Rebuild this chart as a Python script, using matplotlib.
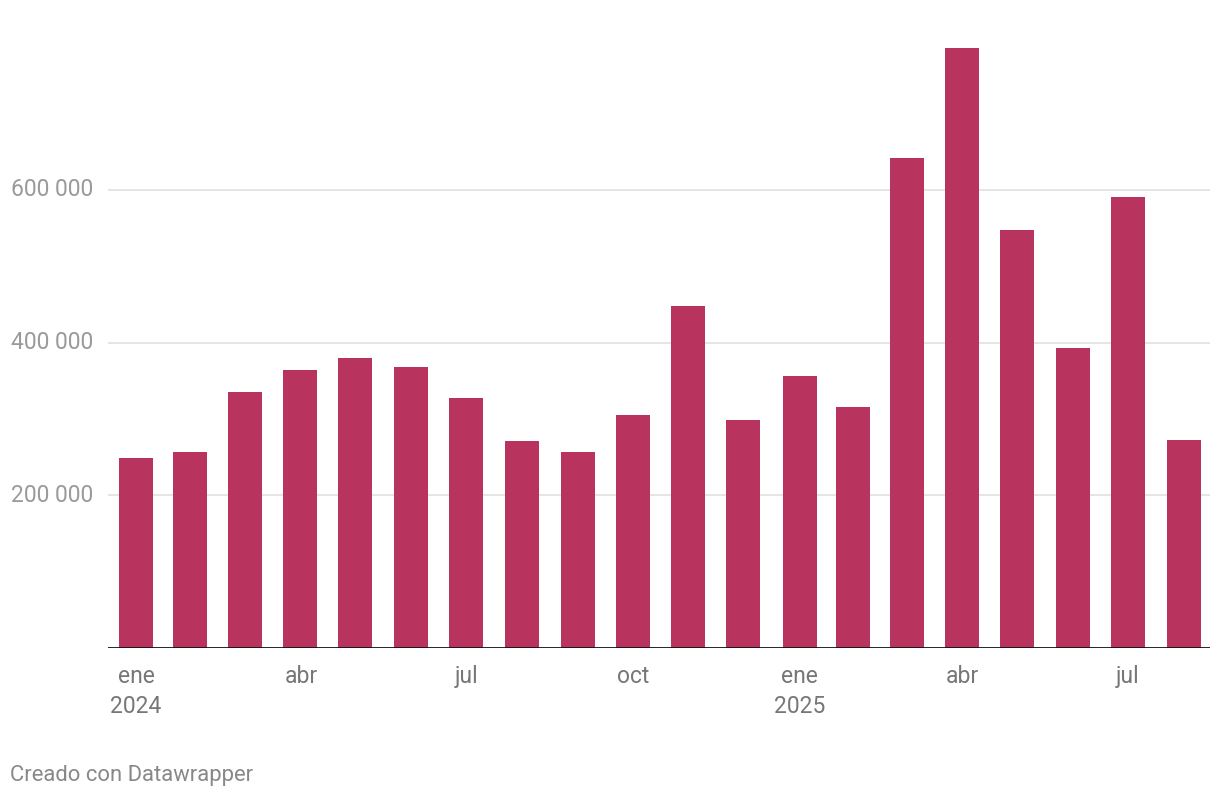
import numpy as np
import pandas as pd
import matplotlib
matplotlib.use("Agg")
import matplotlib.pyplot as plt

plt.rcParams['font.family'] = ['Roboto', 'DejaVu Sans']

# monthly values, ene 2024 - ago 2025
months = pd.date_range("2024-01-01", "2025-08-01", freq="MS")
values = [248900, 256700, 335300, 364100, 379800, 368000, 327400, 271100,
          256700, 305200, 447900, 298600, 356300, 315600, 641800, 785800,
          547500, 392900, 590700, 272400]
tick_months = ["2024-01-01", "2024-04-01", "2024-07-01", "2024-10-01",
               "2025-01-01", "2025-04-01", "2025-07-01"]
tick_labels = ["ene\n2024", "abr", "jul", "oct", "ene\n2025", "abr", "jul"]
y_ticks = [200000, 400000, 600000]

start = pd.Timestamp("2024-01-01")
month_len = np.array([(m + pd.offsets.MonthBegin(1) - m).days for m in months])
x = np.array([(m - start).days for m in months]) + month_len / 2.0

fig = plt.figure(figsize=(12.2, 8), dpi=100)
# pixel placement: left 108, right 1210, bottom 648, top 20
ax = fig.add_axes([108 / 1220, 152 / 800, 1102 / 1220, 628 / 800])
px_day = 1.813
xmax = 1102 / px_day
ymax = 628 / 152.7 * 200000
ax.set_xlim(0, xmax)
ax.set_ylim(0, ymax)

ax.bar(x, values, width=34 / px_day, color="#b8335e", zorder=3)

for t in y_ticks:
    ax.axhline(t, color="#e3e3e3", lw=1.3, zorder=1)
    ax.text(-97 / px_day, t, f"{t:,}".replace(",", " "),
            ha="left", va="center", fontsize=16.5, color="#9a9a9a")
ax.axhline(0, color="#111111", lw=2, zorder=4)

for s in ax.spines.values():
    s.set_visible(False)
ax.set_yticks([])
tx = [(pd.Timestamp(t) - start).days + 15.5 for t in tick_months]
ax.set_xticks(tx)
ax.set_xticklabels(tick_labels, fontsize=16.5, color="#777777", linespacing=1.4)
ax.tick_params(axis="x", length=0, pad=12)
for lab in ax.get_xticklabels():
    lab.set_verticalalignment("top")

fig.text(10 / 1220, 1 - 776 / 800, "Creado con Datawrapper", fontsize=15.8,
         color="#888888", ha="left", va="center")

fig.savefig("out.png", dpi=100)
